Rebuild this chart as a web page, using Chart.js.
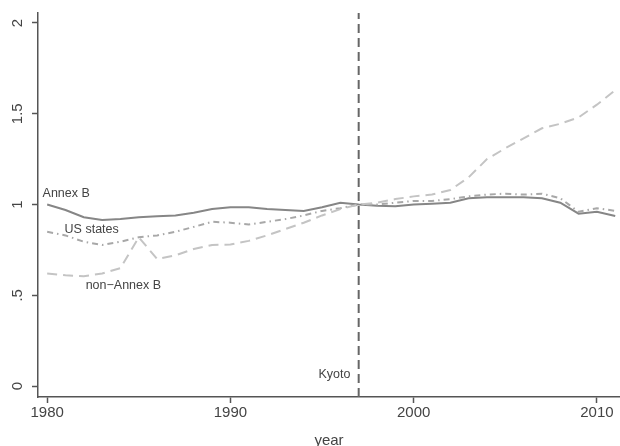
<!DOCTYPE html>
<html lang="en">
  <head>
    <meta charset="UTF-8" />
    <title>Kyoto</title>
    <script src="https://cdn.jsdelivr.net/npm/chart.js"></script>
    <style>
      body {
        margin: 0;
        background: #fff;
      }
      #wrap {
        width: 620px;
        height: 446px;
      }
    </style>
  </head>
  <body>
    <div id="wrap"><canvas id="kyotoChart" width="620" height="446"></canvas></div>

    <script>
      // data
      const years = [
        1980, 1981, 1982, 1983, 1984, 1985, 1986, 1987, 1988, 1989, 1990,
        1991, 1992, 1993, 1994, 1995, 1996, 1997, 1998, 1999, 2000, 2001,
        2002, 2003, 2004, 2005, 2006, 2007, 2008, 2009, 2010, 2011,
      ];
      const annexB = [
        1.0, 0.97, 0.93, 0.915, 0.92, 0.93, 0.935, 0.94, 0.955, 0.975, 0.985,
        0.985, 0.975, 0.97, 0.965, 0.985, 1.01, 1.0, 0.993, 0.99, 1.0, 1.005,
        1.01, 1.035, 1.04, 1.04, 1.04, 1.035, 1.01, 0.95, 0.96, 0.937,
      ];
      const usStates = [
        0.85, 0.83, 0.795, 0.777, 0.795, 0.82, 0.83, 0.85, 0.877, 0.905, 0.9,
        0.89, 0.905, 0.92, 0.94, 0.965, 0.98, 1.0, 1.0, 1.01, 1.02, 1.02,
        1.03, 1.045, 1.055, 1.06, 1.055, 1.06, 1.035, 0.96, 0.98, 0.965,
      ];
      const nonAnnexB = [
        0.62, 0.61, 0.605, 0.62, 0.65, 0.82, 0.7, 0.72, 0.755, 0.777, 0.78,
        0.8, 0.83, 0.865, 0.9, 0.94, 0.975, 1.0, 1.01, 1.03, 1.045, 1.055,
        1.08, 1.15, 1.25, 1.31, 1.365, 1.42, 1.445, 1.48, 1.55, 1.63,
      ];
      const kyotoYear = 1997;
      const xTicks = [1980, 1990, 2000, 2010];
      const yTicks = [0, 0.5, 1, 1.5, 2];

      // axis ranges (stata leaves a little room past the ticks)
      const xMin = 1979.5;
      const xMax = 2011.26;
      const yMin = -0.06;
      const yMax = 2.055;

      // text placed in data coordinates
      const notes = [
        { text: "Annex B", x: 1979.75, y: 1.058, align: "left" },
        { text: "US states", x: 1980.95, y: 0.86, align: "left" },
        { text: "non\u2212Annex B", x: 1982.1, y: 0.555, align: "left" },
        { text: "Kyoto", x: 1996.55, y: 0.065, align: "right" },
      ];

      const pts = (vals) => years.map((yr, i) => ({ x: yr, y: vals[i] }));

      const axisColor = "#555";
      const textColor = "#444";
      const fontFamily = "'Liberation Sans', Arial, sans-serif";

      const notesPlugin = {
        id: "notes",
        afterDatasetsDraw(chart) {
          const { ctx, scales } = chart;
          ctx.save();
          ctx.fillStyle = textColor;
          ctx.font = "12.5px " + fontFamily;
          ctx.textBaseline = "middle";
          notes.forEach((n) => {
            ctx.textAlign = n.align;
            ctx.fillText(
              n.text,
              scales.x.getPixelForValue(n.x),
              scales.y.getPixelForValue(n.y)
            );
          });
          ctx.restore();
        },
      };

      new Chart(document.getElementById("kyotoChart"), {
        type: "line",
        data: {
          datasets: [
            {
              label: "non-Annex B",
              data: pts(nonAnnexB),
              borderColor: "#c4c4c4",
              borderWidth: 2,
              borderDash: [10, 6],
            },
            {
              label: "US states",
              data: pts(usStates),
              borderColor: "#a8a8a8",
              borderWidth: 2,
              borderDash: [6, 4, 1.5, 4],
            },
            {
              label: "Annex B",
              data: pts(annexB),
              borderColor: "#868686",
              borderWidth: 2,
            },
            {
              label: "Kyoto",
              data: [
                { x: kyotoYear, y: yMin },
                { x: kyotoYear, y: yMax },
              ],
              borderColor: "#666",
              borderWidth: 2,
              borderDash: [9, 5],
            },
          ],
        },
        options: {
          responsive: false,
          animation: false,
          layout: { padding: { top: 13, right: 0, left: 0, bottom: 0 } },
          elements: { point: { radius: 0 }, line: { tension: 0 } },
          plugins: {
            legend: { display: false },
            tooltip: { enabled: false },
          },
          scales: {
            x: {
              type: "linear",
              min: xMin,
              max: xMax,
              afterBuildTicks: (s) => {
                s.ticks = xTicks.map((v) => ({ value: v }));
              },
              afterFit: (s) => {
                s.height = 49;
              },
              border: { display: true, color: axisColor, width: 1.5 },
              grid: {
                drawOnChartArea: false,
                drawTicks: true,
                tickLength: 6,
                tickColor: axisColor,
                tickWidth: 1.5,
              },
              ticks: {
                color: textColor,
                padding: 1,
                maxRotation: 0,
                font: { family: fontFamily, size: 15 },
                callback: (v) => String(v),
              },
              title: {
                display: true,
                text: "year",
                color: textColor,
                padding: { top: 0, bottom: -2 },
                font: { family: fontFamily, size: 15, lineHeight: 1 },
              },
            },
            y: {
              min: yMin,
              max: yMax,
              afterBuildTicks: (s) => {
                s.ticks = yTicks.map((v) => ({ value: v }));
              },
              afterFit: (s) => {
                s.width = 38;
              },
              border: { display: true, color: axisColor, width: 1.5 },
              grid: {
                drawOnChartArea: false,
                drawTicks: true,
                tickLength: 6,
                tickColor: axisColor,
                tickWidth: 1.5,
              },
              ticks: {
                color: textColor,
                padding: 4,
                minRotation: 90,
                maxRotation: 90,
                crossAlign: "center",
                font: { family: fontFamily, size: 15 },
                callback: (v) =>
                  v === 0 ? "0" : String(v).replace(/^0\./, "."),
              },
            },
          },
        },
        plugins: [notesPlugin],
      });
    </script>
  </body>
</html>
